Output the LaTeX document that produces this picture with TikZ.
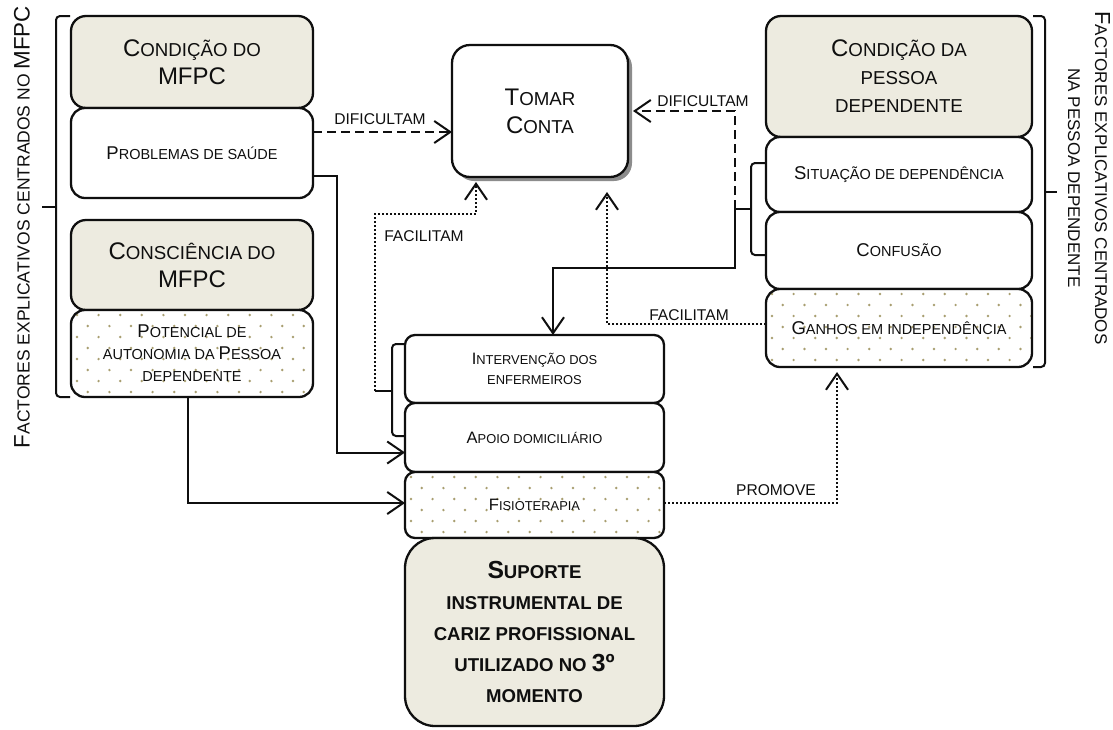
\documentclass[tikz,border=0pt]{standalone}
\usepackage{fontspec}
\setmainfont{Liberation Sans}
\usetikzlibrary{arrows.meta,shadows,calc}

\definecolor{boxbeige}{RGB}{237,235,224}
\definecolor{dotolive}{RGB}{168,158,112}
\definecolor{inkc}{RGB}{15,15,15}
\definecolor{shadowc}{RGB}{140,140,140}

% fake small capitals: lower-case letters set as smaller capitals
\newcommand\fsz[2]{{\fontsize{#1pt}{#1pt}\selectfont #2}}
\newcommand\sA[1]{\fsz{18.7}{#1}}
\newcommand\sB[1]{\fsz{14.5}{#1}}
\newcommand\sC[1]{\fsz{12.9}{#1}}
\newcommand\sR[1]{\fsz{17}{#1}}
\newcommand\sL[1]{\fsz{17.5}{#1}}
\newcommand\sS[1]{\fsz{18.6}{#1}}

\tikzset{
  base/.style={draw=inkc, line width=2.3pt, rectangle, anchor=north west,
    inner sep=0pt, outer sep=0pt, align=center, text=inkc},
  headbox/.style={base, fill=boxbeige, rounded corners=15pt,
    font=\fontsize{24}{28}\selectfont},
  itembox/.style={base, fill=white, rounded corners=14pt,
    font=\fontsize{18.5}{22}\selectfont},
  midbox/.style={base, fill=white, rounded corners=10pt,
    font=\fontsize{16.5}{20}\selectfont},
  dotfill/.style={path picture={
    \foreach \row in {0,...,8}{
      \foreach \col in {0,...,12}{
        \fill[dotolive] ([shift={({\col*21.6+mod(\row,2)*10.8+6},{\row*11+5})}]path picture bounding box.north west) circle (1.35pt);
      }}}},
  link/.style={line width=2pt, draw=inkc, -{Straight Barb[length=16pt,width=22pt]}},
  dashlink/.style={link, dash pattern=on 9pt off 5pt},
  dotlink/.style={link, dash pattern=on 2pt off 2pt},
  lbl/.style={font=\fontsize{15.6}{15.6}\selectfont, text=inkc, inner sep=0pt},
  brace/.style={line width=2pt, draw=inkc, rounded corners=4pt},
}

\begin{document}
\begin{tikzpicture}[x=1pt,y=-1pt]
\useasboundingbox (0,0) rectangle (1113,729);
\fill[white] (0,0) rectangle (1113,729);

% ---- left column: caregiver factors
\node[headbox, minimum width=242, minimum height=92] (cond1) at (71,16)
  {C\sA{ONDIÇÃO DO}\\MFPC};
\node[itembox, minimum width=242, minimum height=90] (prob) at (71,108)
  {P\sB{ROBLEMAS DE SAÚDE}};
\node[headbox, minimum width=242, minimum height=90] (consc) at (71,220)
  {C\sA{ONSCIÊNCIA DO}\\MFPC};
\node[itembox, dotfill, minimum width=242, minimum height=87] (pot) at (71,310)
  {P\sB{OTENCIAL DE}\\\sB{AUTONOMIA DA }P\sB{ESSOA}\\\sB{DEPENDENTE}};

% ---- central outcome
\node[headbox, fill=white, rounded corners=18pt, minimum width=176, minimum height=132,
  drop shadow={shadow xshift=4pt, shadow yshift=-4pt, fill=shadowc, opacity=1}]
  (tomar) at (452,45) {T\sA{OMAR}\\C\sA{ONTA}};

% ---- right column: dependent person factors
\node[headbox, minimum width=266, minimum height=121] (cond2) at (766,16)
  {C\sA{ONDIÇÃO DA}\\\sA{PESSOA}\\\sA{DEPENDENTE}};
\node[itembox, minimum width=266, minimum height=75] (sit) at (766,137)
  {S\sB{ITUAÇÃO DE DEPENDÊNCIA}};
\node[itembox, minimum width=266, minimum height=77] (conf) at (766,212)
  {C\sB{ONFUSÃO}};
\node[itembox, dotfill, minimum width=266, minimum height=78] (ganhos) at (766,289)
  {G\sB{ANHOS EM INDEPENDÊNCIA}};

% ---- professional support column
\node[midbox, minimum width=259, minimum height=68] (interv) at (405,335)
  {I\sC{NTERVENÇÃO DOS}\\\sC{ENFERMEIROS}};
\node[midbox, minimum width=259, minimum height=69] (apoio) at (405,403)
  {A\sC{POIO DOMICILIÁRIO}};
\node[midbox, dotfill, minimum width=259, minimum height=66] (fisio) at (405,472)
  {F\sC{ISIOTERAPIA}};
\node[headbox, rounded corners=30pt, minimum width=259, minimum height=188,
  font=\bfseries\fontsize{24.7}{31}\selectfont] (sup) at (405,538)
  {S\sS{UPORTE}\\\sS{INSTRUMENTAL DE}\\\sS{CARIZ PROFISSIONAL}\\\sS{UTILIZADO NO }3º\\\sS{MOMENTO}};

% ---- brackets grouping the boxes
\draw[brace] (70,16) -- (56,16) -- (56,397) -- (70,397);
\coordinate (lt) at (42,207);
\draw[brace] (56,207) -- (lt);

\draw[brace] (1033,16) -- (1045,16) -- (1045,367) -- (1033,367);
\coordinate (rb) at (1057,192);
\draw[brace] (1045,192) -- (rb);

\draw[brace] (766,163) -- (751,163) -- (751,255) -- (766,255);
\coordinate (rt) at (735,209);
\draw[brace] (751,209) -- (rt);

\draw[brace] (405,344) -- (392,344) -- (392,436) -- (405,436);
\coordinate (mt) at (375,391);
\draw[brace] (392,391) -- (mt);

% ---- side captions
\node[rotate=90, inner sep=0pt, text=inkc, font=\fontsize{22.4}{26}\selectfont] (lcap) at (22,227)
  {F\sL{ACTORES EXPLICATIVOS CENTRADOS NO }MFPC};
\node[rotate=-90, inner sep=0pt, align=center, text=inkc, font=\fontsize{21.8}{27}\selectfont] (rcap) at (1089,178)
  {F\sR{ACTORES EXPLICATIVOS CENTRADOS}\\\sR{NA PESSOA DEPENDENTE}};

% ---- connectors
\coordinate (d1) at ([yshift=21pt]prob.east);
\draw[dashlink] (d1) -- (d1 -| tomar.west);
\draw[dashlink] (rt) |- ([xshift=5pt]tomar.east);

\coordinate (j1) at (553,268);
\draw[link] (rt) |- (j1) -- (j1 |- interv.north);

\coordinate (j2) at (476,214);
\draw[dotlink, shorten >=5pt] (mt) |- (j2) -- (j2 |- tomar.south);

\coordinate (f2) at (607,192);
\draw[dotlink] ([yshift=4pt]ganhos.west) -| (f2);

\draw[link] ([yshift=-23pt]prob.east) -- ++(24,0) |- ([yshift=-15pt]apoio.west);
\draw[link] ([xshift=-4pt]pot.south) |- ([yshift=2pt]fisio.west);
\draw[dotlink, shorten >=5pt] ([yshift=2pt]fisio.east) -| ([xshift=-62pt]ganhos.south);

% ---- connector labels
\node[lbl] (l1) at (380,119) {DIFICULTAM};
\node[lbl] (l2) at (703,101) {DIFICULTAM};
\node[lbl] (l3) at (424,236) {FACILITAM};
\node[lbl] (l4) at (689,315) {FACILITAM};
\node[lbl] (l5) at (776,490) {PROMOVE};
\end{tikzpicture}
\end{document}
